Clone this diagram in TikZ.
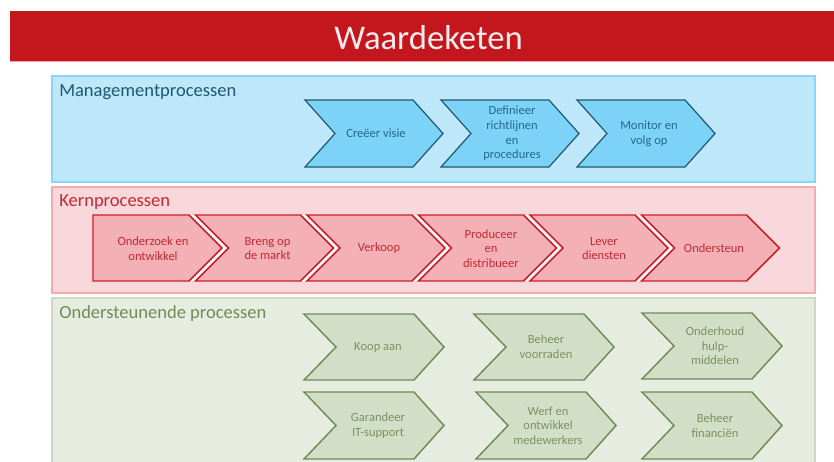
\documentclass[tikz,border=0pt]{standalone}
\usepackage{fontspec}
\setmainfont{Carlito}

\definecolor{barred}{RGB}{196,22,29}
\definecolor{barline}{RGB}{240,165,170}
\definecolor{mgmtfill}{RGB}{190,232,250}
\definecolor{mgmtedge}{RGB}{140,214,245}
\definecolor{mgmtchev}{RGB}{125,210,248}
\definecolor{mgmtline}{RGB}{30,88,112}
\definecolor{mgmttext}{RGB}{38,104,136}
\definecolor{kernfill}{RGB}{249,216,219}
\definecolor{kernedge}{RGB}{242,172,178}
\definecolor{kernchev}{RGB}{243,177,182}
\definecolor{kernline}{RGB}{204,30,42}
\definecolor{kerntext}{RGB}{196,40,52}
\definecolor{ondfill}{RGB}{231,236,225}
\definecolor{ondedge}{RGB}{206,216,197}
\definecolor{ondchev}{RGB}{211,222,198}
\definecolor{ondline}{RGB}{110,140,85}
\definecolor{ondtext}{RGB}{120,146,98}

\begin{document}
\begin{tikzpicture}[x=0.75pt,y=0.75pt,yscale=-1,xscale=1,
  paneltitle/.style={anchor=base west,inner sep=0pt,font=\fontsize{13.9}{16}\selectfont},
  chevtext/.style={align=center,inner sep=0pt,font=\fontsize{9.4}{11}\selectfont},
  mgmtchevron/.style={draw=mgmtline,fill=mgmtchev,line width=0.9pt,line join=miter},
  kernchevron/.style={draw=kernline,fill=kernchev,line width=1.1pt,line join=miter},
  ondchevron/.style={draw=ondline,fill=ondchev,line width=1.1pt,line join=miter}]
\useasboundingbox (0,0) rectangle (834,461);

%Shape: Rectangle [title bar]
\fill [barred] (10,11) rectangle (836,61) ;
\draw [barline,line width=0.9pt] (10,61.5) -- (836,61.5) ;
% Text Node
\node [text=white!92!barred,font=\fontsize{26}{30}\selectfont,anchor=base,inner sep=0pt] (title) at (428.5,49) {Waardeketen};

%Shape: Rectangle [Managementprocessen]
\draw [mgmtedge,fill=mgmtfill,line width=1.1pt] (52,76) rectangle (815,182) ;
%Shape: Rectangle [Kernprocessen]
\draw [kernedge,fill=kernfill,line width=1.1pt] (52,187) rectangle (815,293) ;
%Shape: Rectangle [Ondersteunende processen]
\draw [ondedge,fill=ondfill,line width=1.1pt] (52,298) rectangle (815,470) ;

% Text Node
\node [paneltitle,text=mgmttext!85!black] (mgmt) at (59,96) {Managementprocessen};
% Text Node
\node [paneltitle,text=kerntext] (kern) at (59,206.5) {Kernprocessen};
% Text Node
\node [paneltitle,text=ondline] (ond) at (59,318.5) {Ondersteunende processen};

%Shape: Chevron
\draw [mgmtchevron] (305,100) -- (413,100) -- (443,133.5) -- (413,167) -- (305,167) -- (335,133.5) -- cycle ;
%Shape: Chevron
\draw [mgmtchevron] (441,100) -- (549,100) -- (579,133.5) -- (549,167) -- (441,167) -- (471,133.5) -- cycle ;
%Shape: Chevron
\draw [mgmtchevron] (577,100) -- (685,100) -- (715,133.5) -- (685,167) -- (577,167) -- (607,133.5) -- cycle ;

% Text Node
\node [chevtext,text=mgmttext] (visie) at (376,133.5) {Creëer visie};
% Text Node
\node [chevtext,text=mgmttext] (richtlijnen) at (512,133.5) {Definieer\\richtlijnen\\en\\procedures};
% Text Node
\node [chevtext,text=mgmttext] (monitor) at (649,133.5) {Monitor en\\volg op};

%Shape: white gaps between the chevrons
\fill [white] (189,215) -- (222,248) -- (189,281) -- (195.5,281) -- (228.5,248) -- (195.5,215) -- cycle ;
\fill [white] (300.5,215) -- (333.5,248) -- (300.5,281) -- (307,281) -- (340,248) -- (307,215) -- cycle ;
\fill [white] (412,215) -- (445,248) -- (412,281) -- (418.5,281) -- (451.5,248) -- (418.5,215) -- cycle ;
\fill [white] (523.5,215) -- (556.5,248) -- (523.5,281) -- (530,281) -- (563,248) -- (530,215) -- cycle ;
\fill [white] (635,215) -- (668,248) -- (635,281) -- (641.5,281) -- (674.5,248) -- (641.5,215) -- cycle ;

%Shape: Pentagon
\draw [kernchevron] (93,215) -- (189,215) -- (222,248) -- (189,281) -- (93,281) -- cycle ;
%Shape: Chevron
\draw [kernchevron] (195.5,215) -- (300.5,215) -- (333.5,248) -- (300.5,281) -- (195.5,281) -- (228.5,248) -- cycle ;
%Shape: Chevron
\draw [kernchevron] (307,215) -- (412,215) -- (445,248) -- (412,281) -- (307,281) -- (340,248) -- cycle ;
%Shape: Chevron
\draw [kernchevron] (418.5,215) -- (523.5,215) -- (556.5,248) -- (523.5,281) -- (418.5,281) -- (451.5,248) -- cycle ;
%Shape: Chevron
\draw [kernchevron] (530,215) -- (635,215) -- (668,248) -- (635,281) -- (530,281) -- (563,248) -- cycle ;
%Shape: Chevron
\draw [kernchevron] (641.5,215) -- (746.5,215) -- (779.5,248) -- (746.5,281) -- (641.5,281) -- (674.5,248) -- cycle ;

% Text Node
\node [chevtext,text=kerntext] (onderzoek) at (153,248.5) {Onderzoek en\\ontwikkel};
% Text Node
\node [chevtext,text=kerntext] (breng) at (267.5,248.5) {Breng op\\de markt};
% Text Node
\node [chevtext,text=kerntext] (verkoop) at (379,248.5) {Verkoop};
% Text Node
\node [chevtext,text=kerntext] (produceer) at (491,248.5) {Produceer\\en\\distribueer};
% Text Node
\node [chevtext,text=kerntext] (lever) at (604,248.5) {Lever\\diensten};
% Text Node
\node [chevtext,text=kerntext] (ondersteun) at (714,248.5) {Ondersteun};

%Shape: Chevron
\draw [ondchevron] (304,314) -- (414,314) -- (444,347) -- (414,380) -- (304,380) -- (336,347) -- cycle ;
%Shape: Chevron
\draw [ondchevron] (474,314) -- (584,314) -- (614,347) -- (584,380) -- (474,380) -- (506,347) -- cycle ;
%Shape: Chevron
\draw [ondchevron] (642,313) -- (752,313) -- (782,346) -- (752,379) -- (642,379) -- (674,346) -- cycle ;
%Shape: Chevron
\draw [ondchevron] (304,392) -- (414,392) -- (444,425.5) -- (414,459) -- (304,459) -- (336,425.5) -- cycle ;
%Shape: Chevron
\draw [ondchevron] (476,392) -- (586,392) -- (616,425.5) -- (586,459) -- (476,459) -- (508,425.5) -- cycle ;
%Shape: Chevron
\draw [ondchevron] (642,392) -- (752,392) -- (782,425.5) -- (752,459) -- (642,459) -- (674,425.5) -- cycle ;

% Text Node
\node [chevtext,text=ondtext] (koop) at (378,347) {Koop aan};
% Text Node
\node [chevtext,text=ondtext] (voorraden) at (546,347) {Beheer\\voorraden};
% Text Node
\node [chevtext,text=ondtext] (hulpmiddelen) at (715,346) {Onderhoud\\hulp-\\middelen};
% Text Node
\node [chevtext,text=ondtext] (itsupport) at (378,425.5) {Garandeer\\IT-support};
% Text Node
\node [chevtext,text=ondtext] (medewerkers) at (548,425.5) {Werf en\\ontwikkel\\medewerkers};
% Text Node
\node [chevtext,text=ondtext] (financien) at (715,425.5) {Beheer\\financiën};

\end{tikzpicture}
\end{document}
